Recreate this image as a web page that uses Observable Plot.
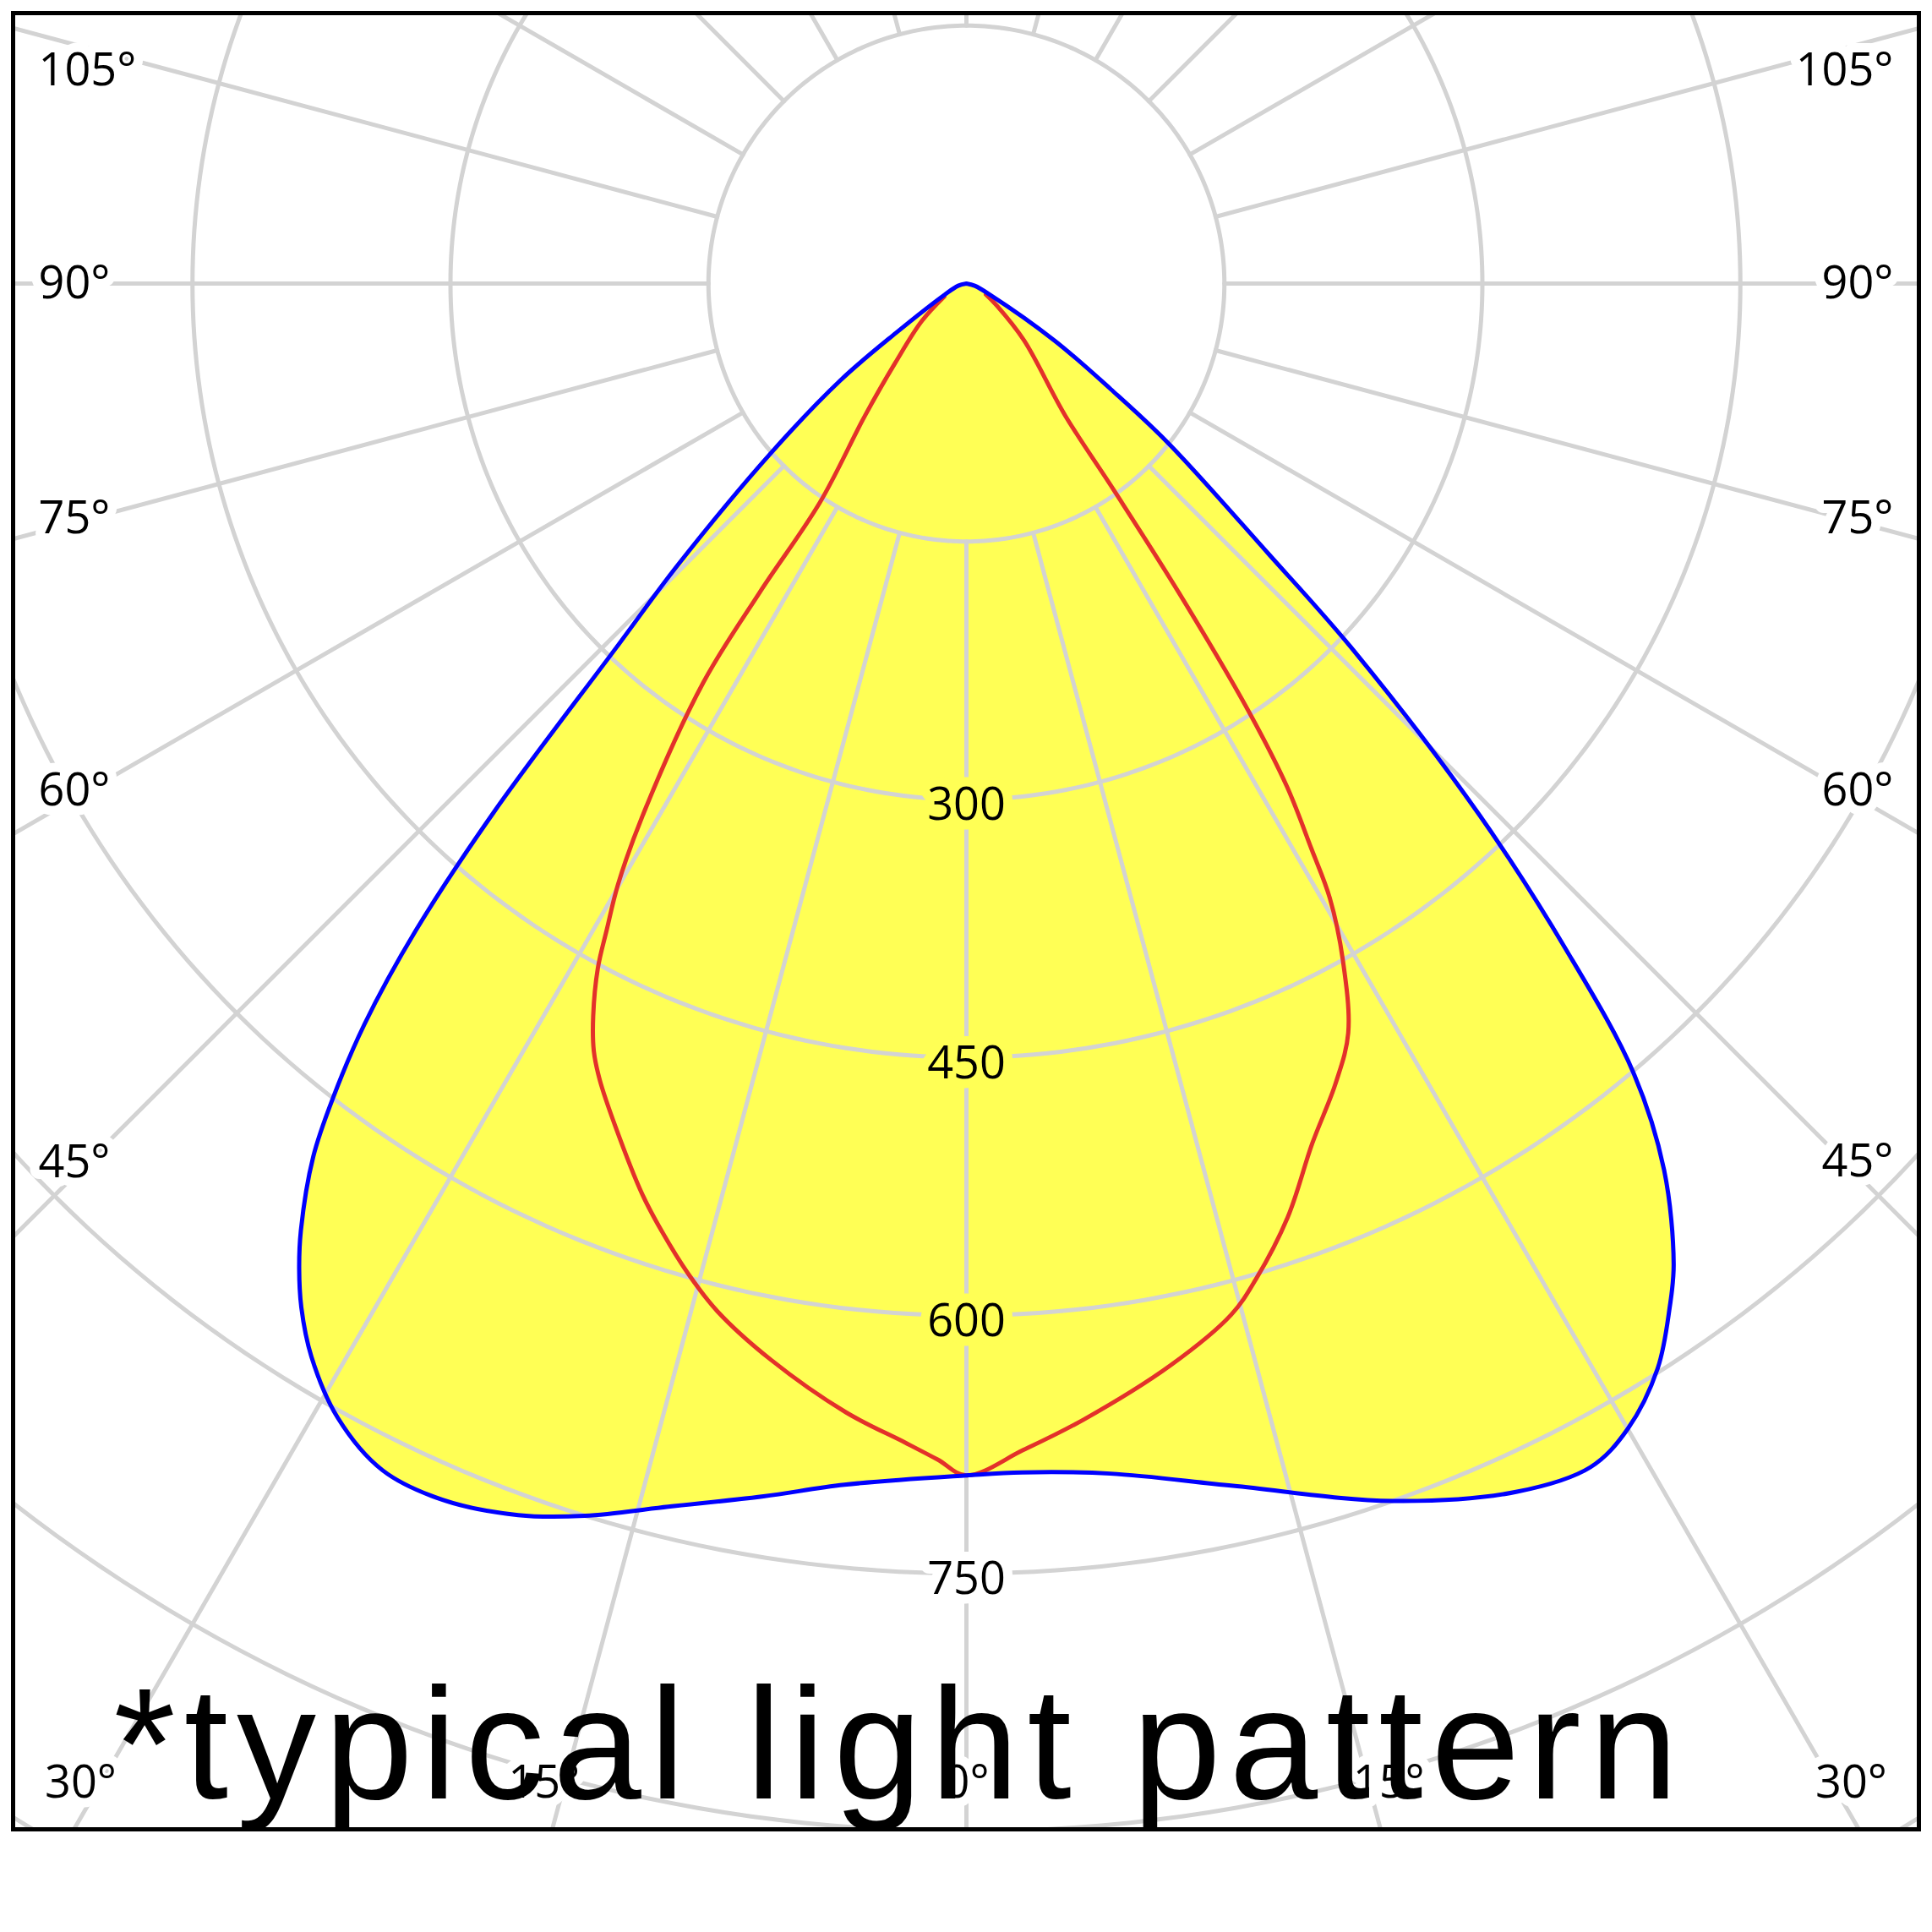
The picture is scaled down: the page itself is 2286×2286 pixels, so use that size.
<!DOCTYPE html>
<html><head><meta charset="utf-8">
<script src="https://cdn.jsdelivr.net/npm/d3@7"></script>
<script src="https://cdn.jsdelivr.net/npm/@observablehq/plot@0.6"></script>
<style>
html,body{margin:0;padding:0;background:#fff;}
#chart{width:2286px;}
</style></head><body><div id="chart"></div>
<script>
// ---------------- data (candela values) ----------------
// Outer (blue) distribution, left half: angle from nadir (deg) and intensity
const blueLeftAngles = [0, 5.8, 9.5, 13.7, 17.2, 20, 23.3, 26.2, 29, 31.4, 33, 34.1, 35.1, 36.8, 37.9, 39.1, 40.4, 41.8, 43.9, 45.7, 49.1, 52.5, 55, 63, 75, 90];
const blueLeftValues = [693, 702, 715, 732, 750, 762, 770, 769, 754, 731, 710, 692, 673, 634, 599, 555, 494, 412, 293, 235, 150, 92, 50, 14, 5, 0];
// Outer (blue) distribution, right half
const blueRightAngles = [0, 2.7, 6.9, 12.5, 19.3, 24.5, 27.8, 30, 32.5, 34.5, 35.8, 38.2, 40.2, 42, 44, 46.5, 48.2, 51.7, 53.8, 57.1, 64.7, 75, 90];
const blueRightValues = [693, 692, 697, 716, 750, 772, 778, 769, 748, 722, 703, 656, 601, 521, 429, 312, 235, 149, 104, 61, 15, 5, 0];
// Inner (red) distribution, left half
const redLeftAngles = [0, 1.4, 3, 6.1, 10.3, 13.6, 15.7, 17.8, 19.6, 22.6, 24.7, 25.9, 27, 28.3, 29.1, 30.1, 31.3, 33.4, 33.8, 33.8, 37.5, 41.9, 49.9, 59.4];
const redLeftValues = [693, 684, 675, 660, 636, 615, 598, 579, 562, 531, 510, 496, 478, 452, 430, 404, 363, 278, 216, 153, 97, 62, 34, 15];
// Inner (red) distribution, right half
const redRightAngles = [0, 2.8, 5.9, 10.7, 14.4, 16.2, 19, 21.9, 24.8, 27, 29.1, 30.6, 31.4, 32.5, 33.4, 34.5, 35.5, 36.8, 45.4, 53.9, 60.5];
const redRightValues = [693, 679, 664, 640, 619, 603, 574, 539, 512, 489, 450, 415, 385, 347, 299, 218, 148, 96, 47, 22, 13];

// grid and tick labels
const ringValues = [150, 300, 450, 600, 750, 900, 1050, 1200];
const spokeAngles = d3.range(0, 360, 15);
const radialTickValues = [300, 450, 600, 750];
const angleTickValues = [0, 15, 30, 45, 60, 75, 90, 105];
const captionText = "*typical light pattern";

// ---------------- layout ----------------
const PX = 2.035;               // pixels per candela
const W = 2286, H = 2180;
const mL = 15, mR = 16, mT = 15, mB = 16;
const poleX = 1143, poleY = 335; // pole position in pixels
const xDomain = [(mL - poleX) / PX, (W - mR - poleX) / PX];
const yDomain = [-(H - mB - poleY) / PX, (poleY - mT) / PX];
const L = xDomain[0], R = xDomain[1], B = yDomain[0], T = yDomain[1];

const rad = d => d * Math.PI / 180;
function polar(angle, value, side) {
  return {x: side * value * Math.sin(rad(angle)), y: -value * Math.cos(rad(angle))};
}

// closed outline of the blue curve: pole -> left half -> nadir -> right half -> pole
const blueOutline = [];
for (let i = blueLeftAngles.length - 1; i >= 0; --i) blueOutline.push(polar(blueLeftAngles[i], blueLeftValues[i], -1));
for (let i = 1; i < blueRightAngles.length; ++i) blueOutline.push(polar(blueRightAngles[i], blueRightValues[i], 1));

const redOutline = [];
for (let i = redLeftAngles.length - 1; i >= 0; --i) redOutline.push(polar(redLeftAngles[i], redLeftValues[i], -1));
for (let i = 1; i < redRightAngles.length; ++i) redOutline.push(polar(redRightAngles[i], redRightValues[i], 1));

const rings = ringValues.flatMap(r => d3.range(0, 361, 1).map(a => ({...polar(a, r, 1), r})));
const spokes = spokeAngles.flatMap(a => [150, 1500].map(r => ({...polar(a, r, 1), a})));

const radialLabels = radialTickValues.map(v => ({
  x: 0, y: -v, text: String(v),
  halo: v < blueLeftValues[0] ? "#ffff55" : "white"
}));

// angle labels: where each spoke leaves the frame
const sideLeft = [], sideRight = [], bottomLabels = [];
for (const deg of angleTickValues) {
  const s = Math.sin(rad(deg)), c = Math.cos(rad(deg));
  for (const side of deg === 0 ? [1] : [-1, 1]) {
    const edge = side < 0 ? -L : R;
    const hitsSide = s > 0 && (c <= 0 || edge * c / s < -B);
    if (hitsSide) {
      const xc = edge - 88 / PX;
      let y = -xc * c / s;
      y = Math.max(B + 55 / PX, Math.min(T - 68 / PX, y));
      const d = {x: side < 0 ? L + 30 / PX : R - 30 / PX, y, text: deg + "°"};
      (side < 0 ? sideLeft : sideRight).push(d);
    } else {
      const yb = -B + 36 / PX;
      let x = side * yb * s / c;
      x = Math.max(L + 80 / PX, Math.min(R - 80 / PX, x));
      bottomLabels.push({x, y: B + 55 / PX, text: deg + "°"});
    }
  }
}

const labelFont = "Open Sans, DejaVu Sans, sans-serif";
const labelSize = 54;
const gridColor = "#d3d3d3";
const haloOpts = {stroke: "white", strokeWidth: 22, paintOrder: "stroke", strokeLinejoin: "round", fill: "black",
  fontFamily: labelFont, fontSize: labelSize, lineAnchor: "middle"};

const chart = Plot.plot({
  width: W, height: H,
  marginLeft: mL, marginRight: mR, marginTop: mT, marginBottom: mB,
  x: {domain: xDomain, axis: null},
  y: {domain: yDomain, axis: null},
  style: {background: "white"},
  marks: [
    Plot.line(blueOutline, {x: "x", y: "y", fill: "#ffff55", stroke: "none", curve: "catmull-rom", clip: true}),
    Plot.line(rings, {x: "x", y: "y", z: "r", stroke: gridColor, strokeWidth: 5, clip: true}),
    Plot.line(spokes, {x: "x", y: "y", z: "a", stroke: gridColor, strokeWidth: 5, clip: true}),
    Plot.line(redOutline, {x: "x", y: "y", stroke: "#e3312a", strokeWidth: 5, curve: "catmull-rom", clip: true}),
    Plot.line(blueOutline, {x: "x", y: "y", stroke: "#0000ff", strokeWidth: 5, curve: "catmull-rom", clip: true}),
    Plot.text(radialLabels, {x: "x", y: "y", text: "text", stroke: "halo", strokeWidth: 22, paintOrder: "stroke", dy: 7,
      strokeLinejoin: "round", fill: "black", fontFamily: labelFont, fontSize: labelSize, lineAnchor: "middle", textAnchor: "middle"}),
    Plot.text(sideLeft, {x: "x", y: "y", text: "text", textAnchor: "start", ...haloOpts}),
    Plot.text(sideRight, {x: "x", y: "y", text: "text", textAnchor: "end", ...haloOpts}),
    Plot.text(bottomLabels, {x: "x", y: "y", text: "text", textAnchor: "middle", ...haloOpts}),
    Plot.frame({stroke: "black", strokeWidth: 5}),
    Plot.text([captionText], {frameAnchor: "bottom-left", textAnchor: "start", lineAnchor: "bottom",
      dx: 119, dy: -37, fontSize: 188, fontFamily: "Liberation Sans, Arial, Helvetica, sans-serif", fill: "black"})
  ]
});

d3.select(chart).selectAll("text").filter(function() { return this.textContent === captionText; })
  .attr("letter-spacing", "10px");

document.getElementById("chart").appendChild(chart);
</script>
</body></html>
